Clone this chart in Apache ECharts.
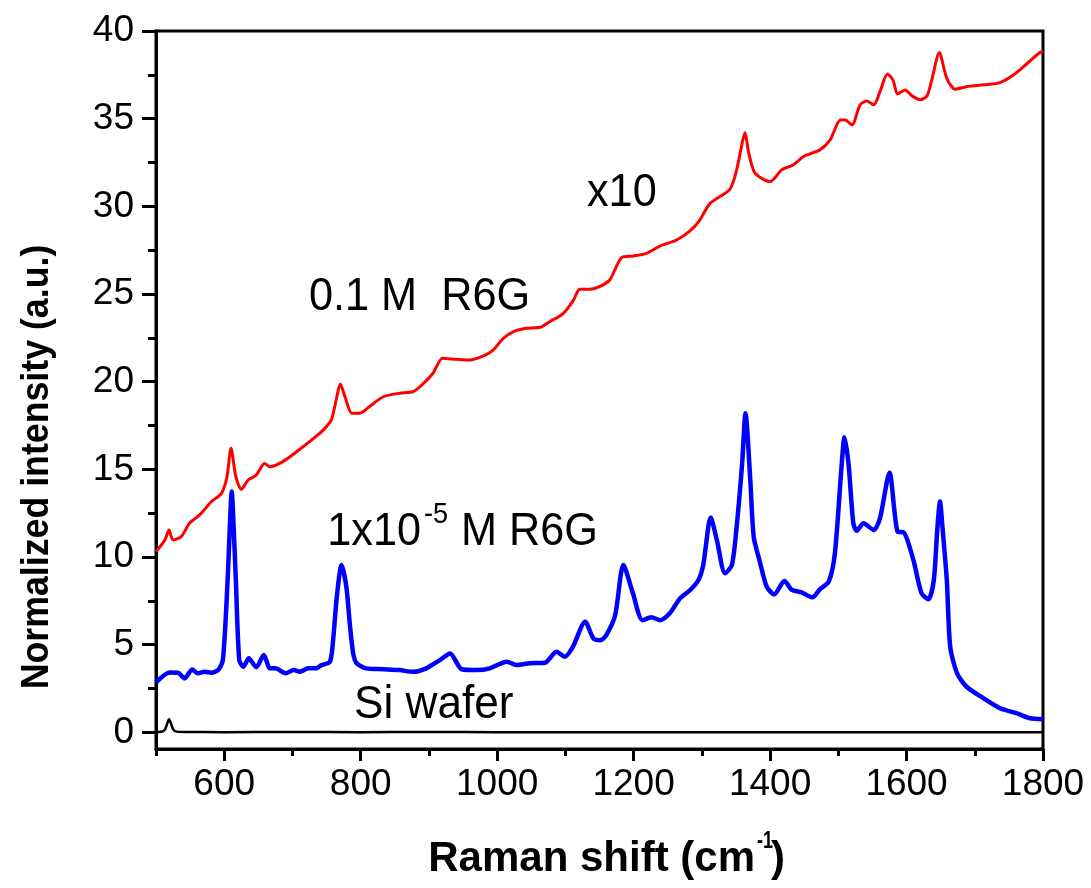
<!DOCTYPE html>
<html>
<head>
<meta charset="utf-8">
<script src="https://cdn.jsdelivr.net/npm/echarts@6/dist/echarts.min.js"></script>
<style>
html,body{margin:0;padding:0;background:#fff;}
#chart{width:1091px;height:888px;}
</style>
</head>
<body>
<div id="chart"></div>
<script>
// spectra (Raman shift in cm-1, normalized intensity)
var blueX = [500,520,532,542,553,561,571,581,591,598,605,608,611,614,617,622,628,636,647,658,667,675,690,702,711,723,735,742,755,760,765,772,779,784,789,794,808,833,857,877,896,916,931,948,970,989,1014,1028,1048,1070,1087,1099,1111,1129,1141,1151,1160,1173,1185,1199,1213,1226,1239,1253,1268,1283,1295,1302,1313,1322,1334,1344,1351,1359,1364,1371,1376,1385,1395,1406,1421,1432,1446,1462,1473,1486,1495,1505,1509,1515,1522,1527,1537,1552,1561,1575,1587,1596,1610,1622,1632,1640,1645,1649,1653,1659,1664,1674,1688,1713,1737,1762,1781,1800];
var blueY = [2.85,3.42,3.40,3.08,3.59,3.37,3.45,3.40,3.55,4.12,8.69,11.54,13.73,11.54,8.70,4.12,3.74,4.22,3.71,4.41,3.65,3.65,3.37,3.55,3.46,3.65,3.65,3.82,4.03,5.45,7.74,9.54,8.30,6.20,4.50,3.94,3.65,3.60,3.55,3.45,3.65,4.12,4.50,3.60,3.55,3.65,4.03,3.84,3.94,3.97,4.60,4.31,4.88,6.31,5.36,5.25,5.55,6.69,9.54,7.93,6.40,6.56,6.40,6.79,7.64,8.12,8.69,9.54,12.26,10.97,9.07,9.54,11.73,15.3,18.2,14.4,11.16,9.73,8.31,7.87,8.63,8.12,7.98,7.70,8.16,8.59,10.21,15.3,16.83,15.3,11.92,11.50,11.92,11.54,12.20,14.81,11.44,11.40,9.83,7.93,7.59,8.69,11.54,13.16,11.54,8.69,4.88,3.37,2.60,1.94,1.37,1.08,0.80,0.75];

var redX = [500,513,519,525,537,549,564,581,596,604,610,617,625,635,647,659,667,686,706,725,745,757,765,770,777,787,799,813,833,857,877,892,906,920,940,960,980,994,1009,1024,1043,1063,1077,1097,1112,1121,1136,1150,1165,1183,1200,1219,1239,1263,1283,1297,1312,1341,1351,1358,1363,1369,1378,1400,1417,1434,1449,1473,1488,1503,1510,1520,1532,1542,1552,1561,1572,1580,1587,1598,1608,1620,1630,1637,1648,1659,1671,1689,1713,1737,1757,1777,1794,1800];
var redY = [10.3,10.97,11.54,10.97,11.16,11.92,12.4,13.15,13.63,14.58,16.2,14.58,13.86,14.39,14.68,15.34,15.15,15.44,16.0,16.58,17.24,17.82,19.14,19.87,19.14,18.2,18.2,18.58,19.14,19.34,19.43,19.9,20.48,21.33,21.28,21.24,21.47,21.8,22.47,22.86,23.05,23.1,23.42,23.9,24.66,25.27,25.27,25.42,25.8,27.1,27.17,27.32,27.74,28.08,28.61,29.22,30.17,30.97,32.08,33.4,34.2,33.0,31.89,31.41,32.08,32.36,32.84,33.22,33.79,34.93,34.93,34.64,35.79,36.01,35.79,36.54,37.55,37.21,36.41,36.64,36.3,36.08,36.3,37.21,38.77,37.3,36.68,36.83,36.93,37.06,37.5,38.16,38.73,38.85];

var siX = [500,508,513,516,519,522,525,530,540,600,700,800,900,1000,1100,1200,1300,1400,1500,1600,1700,1800];
var siY = [0.02,0.03,0.15,0.45,0.74,0.5,0.18,0.04,0.02,0.01,0.02,0.01,0.02,0.01,0.01,0.01,0.01,0.01,0.01,0.01,0.01,0.01];

// axis ticks
var xLabelTicks = [600,800,1000,1200,1400,1600,1800];
var xMinorTicks = [500,700,900,1100,1300,1500,1700];
var yLabelTicks = [0,5,10,15,20,25,30,35,40];
var yMinorTicks = [2.5,7.5,12.5,17.5,22.5,27.5,32.5,37.5];

function pairs(xs, ys) {
    var out = [];
    for (var i = 0; i < xs.length; i++) out.push([xs[i], ys[i]]);
    return out;
}

var FONT = '"Liberation Sans", Arial, sans-serif';
var chart = echarts.init(document.getElementById('chart'));

var axisLine = {show: true, onZero: false, lineStyle: {color: '#000', width: 3}};
var plain = function (v) { return String(v); };

var option = {
    animation: false,
    backgroundColor: '#fff',
    grid: {left: 156, right: 48, top: 31, bottom: 139, show: true, borderColor: '#000', borderWidth: 3},
    xAxis: [{
        type: 'value', min: 500, max: 1800, position: 'bottom',
        axisLine: axisLine,
        axisTick: {show: true, customValues: xLabelTicks, length: 12, lineStyle: {color: '#000', width: 3}},
        axisLabel: {customValues: xLabelTicks, formatter: plain, color: '#000', fontSize: 37, fontFamily: FONT, margin: 17},
        splitLine: {show: false}
    }, {
        type: 'value', min: 500, max: 1800, position: 'bottom',
        axisLine: {show: false, onZero: false},
        axisTick: {show: true, customValues: xMinorTicks, length: 7, lineStyle: {color: '#000', width: 3}},
        axisLabel: {show: false},
        splitLine: {show: false}
    }],
    yAxis: [{
        type: 'value', min: -0.95, max: 40, position: 'left',
        axisLine: axisLine,
        axisTick: {show: true, customValues: yLabelTicks, length: 14, lineStyle: {color: '#000', width: 3}},
        axisLabel: {customValues: yLabelTicks, formatter: plain, color: '#000', fontSize: 37, fontFamily: FONT, margin: 22},
        splitLine: {show: false}
    }, {
        type: 'value', min: -0.95, max: 40, position: 'left',
        axisLine: {show: false, onZero: false},
        axisTick: {show: true, customValues: yMinorTicks, length: 8, lineStyle: {color: '#000', width: 3}},
        axisLabel: {show: false},
        splitLine: {show: false}
    }],
    series: [{
        name: 'Si wafer', type: 'line', data: pairs(siX, siY),
        showSymbol: false, smooth: 0.25, lineStyle: {color: '#000', width: 2.5}
    }, {
        name: '1x10-5 M R6G', type: 'line', data: pairs(blueX, blueY),
        showSymbol: false, smooth: 0.25, lineStyle: {color: '#0000ff', width: 4.5}
    }, {
        name: '0.1 M R6G', type: 'line', data: pairs(redX, redY),
        showSymbol: false, smooth: 0.25, lineStyle: {color: '#ff0000', width: 3}
    }],
    graphic: [
        {type: 'text', x: 587, y: 193, scaleX: 0.94, style: {text: 'x10', fontSize: 46, fontFamily: FONT, fill: '#000', align: 'left', verticalAlign: 'middle'}},
        {type: 'text', x: 309, y: 297, scaleX: 0.94, style: {text: '0.1 M  R6G', fontSize: 46, fontFamily: FONT, fill: '#000', align: 'left', verticalAlign: 'middle'}},
        {type: 'text', x: 421, y: 532, scaleX: 0.94, style: {text: '1x10', fontSize: 46, fontFamily: FONT, fill: '#000', align: 'right', verticalAlign: 'middle'}},
        {type: 'text', x: 424, y: 515, scaleX: 0.9, style: {text: '-5', fontSize: 30, fontFamily: FONT, fill: '#000', align: 'left', verticalAlign: 'middle'}},
        {type: 'text', x: 461, y: 532, scaleX: 0.94, style: {text: 'M R6G', fontSize: 46, fontFamily: FONT, fill: '#000', align: 'left', verticalAlign: 'middle'}},
        {type: 'text', x: 354, y: 705, scaleX: 0.96, style: {text: 'Si wafer', fontSize: 46, fontFamily: FONT, fill: '#000', align: 'left', verticalAlign: 'middle'}},
        // axis names
        {type: 'text', x: 755, y: 859, style: {text: 'Raman shift (cm', fontSize: 42, fontWeight: 'bold', fontFamily: FONT, fill: '#000', align: 'right', verticalAlign: 'middle'}},
        {type: 'text', x: 757, y: 841, scaleX: 0.75, style: {text: '-1', fontSize: 24, fontWeight: 'bold', fontFamily: FONT, fill: '#000', align: 'left', verticalAlign: 'middle'}},
        {type: 'text', x: 771, y: 859, style: {text: ')', fontSize: 42, fontWeight: 'bold', fontFamily: FONT, fill: '#000', align: 'left', verticalAlign: 'middle'}},
        {type: 'text', x: 38, y: 467, rotation: Math.PI / 2, scaleX: 0.94, style: {text: 'Normalized intensity (a.u.)', fontSize: 38, fontWeight: 'bold', fontFamily: FONT, fill: '#000', align: 'center', verticalAlign: 'middle'}}
    ]
};
chart.setOption(option);
</script>
</body>
</html>
